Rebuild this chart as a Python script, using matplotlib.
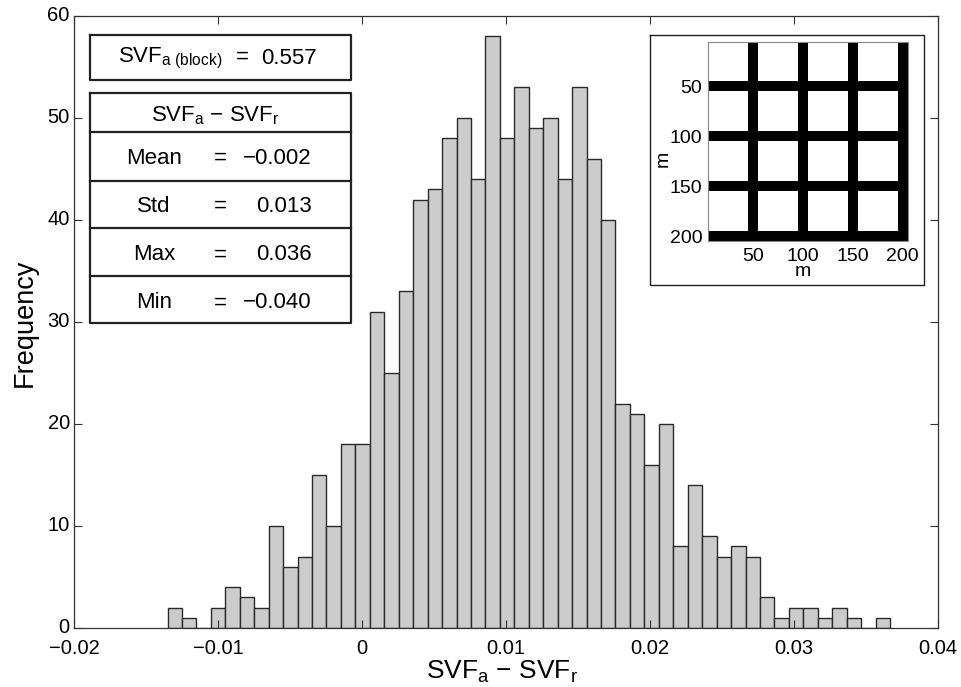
import numpy as np
import matplotlib
matplotlib.use("Agg")
import matplotlib.pyplot as plt
from matplotlib.transforms import ScaledTranslation

plt.rcParams['font.family'] = ['Liberation Sans', 'DejaVu Sans']
plt.rcParams['mathtext.fontset'] = 'custom'
plt.rcParams['mathtext.rm'] = 'Liberation Sans'
plt.rcParams['mathtext.it'] = 'Liberation Sans'
plt.rcParams['mathtext.default'] = 'rm'

counts = [2, 1, 0, 2, 4, 3, 2, 10, 6, 7,
          15, 10, 18, 18, 31, 25, 33, 42, 43, 48,
          50, 44, 58, 48, 53, 49, 50, 44, 53, 46,
          40, 22, 21, 16, 20, 8, 14, 9, 7, 8,
          7, 3, 1, 2, 2, 1, 2, 1, 0, 1]
bin_start = -0.0135
bin_stop = 0.0367

xticks = [-0.02, -0.01, 0, 0.01, 0.02, 0.03, 0.04]
xtick_labels = ['\u22120.02', '\u22120.01', '0', '0.01', '0.02', '0.03', '0.04']
yticks = [0, 10, 20, 30, 40, 50, 60]

stat_names = ['Mean', 'Std', 'Max', 'Min']
stat_values = ['\u22120.002', '0.013', '0.036', '\u22120.040']
block_svf = '0.557'

street_starts = [40, 90, 140, 190]
street_width = 10
map_size = 200
map_ticks = [50, 100, 150, 200]

W, H = 961, 687
fig = plt.figure(figsize=(W / 100, H / 100), dpi=100)


def px_axes(x0, y0, x1, y1):
    return fig.add_axes([x0 / W, 1 - y1 / H, (x1 - x0) / W, (y1 - y0) / H])


diff_label = 'SVF$_{a}$ \u2212 SVF$_{r}$'

# main histogram
ax = px_axes(74, 16, 937.5, 628)
edges = np.linspace(bin_start, bin_stop, len(counts) + 1)
ax.bar(edges[:-1], counts, width=edges[1] - edges[0], align='edge',
       color='#cccccc', edgecolor='#2a2a2a', linewidth=1.0)
ax.set_xlim(-0.02, 0.04)
ax.set_ylim(0, 60)
ax.set_xticks(xticks)
ax.set_xticklabels(xtick_labels)
ax.set_yticks(yticks)
ax.tick_params(direction='in', top=True, right=True, length=5.5, width=0.8,
               color='#333333', labelsize=14.5)
ax.tick_params(axis='x', pad=8)
ax.tick_params(axis='y', pad=3)
# y numbers sit a little above their ticks
up = ScaledTranslation(0, 2 / 72, fig.dpi_scale_trans)
for lab in ax.get_yticklabels():
    lab.set_transform(lab.get_transform() + up)
for s in ax.spines.values():
    s.set_linewidth(0.9)
    s.set_color('#333333')
ax.set_xlabel(diff_label, fontsize=19, va='center')
ax.xaxis.set_label_coords((502 - 74) / 863.5, -(672 - 628) / 612)
ax.set_ylabel('Frequency', fontsize=19.5, va='center')
ax.yaxis.set_label_coords((25 - 74) / 863.5, (628 - 323) / 612)

# stat boxes, drawn in pixel space
ov = fig.add_axes([0, 0, 1, 1])
ov.set_xlim(0, W)
ov.set_ylim(H, 0)
ov.axis('off')

box_x = [90, 351]
box_lw = 1.6
for top, bottom in [(35, 80), (93, 323)]:
    ov.plot([box_x[0], box_x[1], box_x[1], box_x[0], box_x[0]],
            [top, top, bottom, bottom, top], color='#222222', lw=box_lw)
for y in [132, 181, 228, 276]:
    ov.plot(box_x, [y, y], color='#222222', lw=box_lw)

ov.text(118, 58, 'SVF$_{a\\ (block)}$', fontsize=16, ha='left', va='center')
ov.text(242, 57, '=', fontsize=16, ha='center', va='center')
ov.text(317, 58, block_svf, fontsize=16, ha='right', va='center')
ov.text(215, 116, diff_label, fontsize=16, ha='center', va='center')

row_y = [158, 206, 255, 303]
for name, val, y in zip(stat_names, stat_values, row_y):
    ov.text(154, y, name, fontsize=16, ha='center', va='center')
    ov.text(220, y, '=', fontsize=16, ha='center', va='center')
    ov.text(312, y, val, fontsize=16, ha='right', va='center')

# inset frame and its axis names
ov.plot([650, 924, 924, 650, 650], [35, 35, 285, 285, 35], color='#222222', lw=1.0)
ov.text(803, 272, 'm', fontsize=14, ha='center', va='center')
ov.text(663, 159, 'm', fontsize=14, rotation=90, ha='center', va='center')

# inset street map, streets are centred on the tick values
grid = np.ones((map_size, map_size))
for s in street_starts:
    grid[s:s + street_width, :] = 0
    grid[:, s:s + street_width] = 0
inset = px_axes(707.7, 41.7, 907.7, 241)
inset.imshow(grid, cmap='gray', vmin=0, vmax=1, extent=[5, 205, 205, 5],
             aspect='auto', interpolation='nearest')
inset.set_xticks(map_ticks)
inset.set_yticks(map_ticks)
inset.tick_params(length=0, labelsize=14)
inset.tick_params(axis='x', pad=5)
inset.tick_params(axis='y', pad=4)
for s in inset.spines.values():
    s.set_linewidth(0.8)
    s.set_color('#888888')

fig.savefig('out.png', dpi=100)
